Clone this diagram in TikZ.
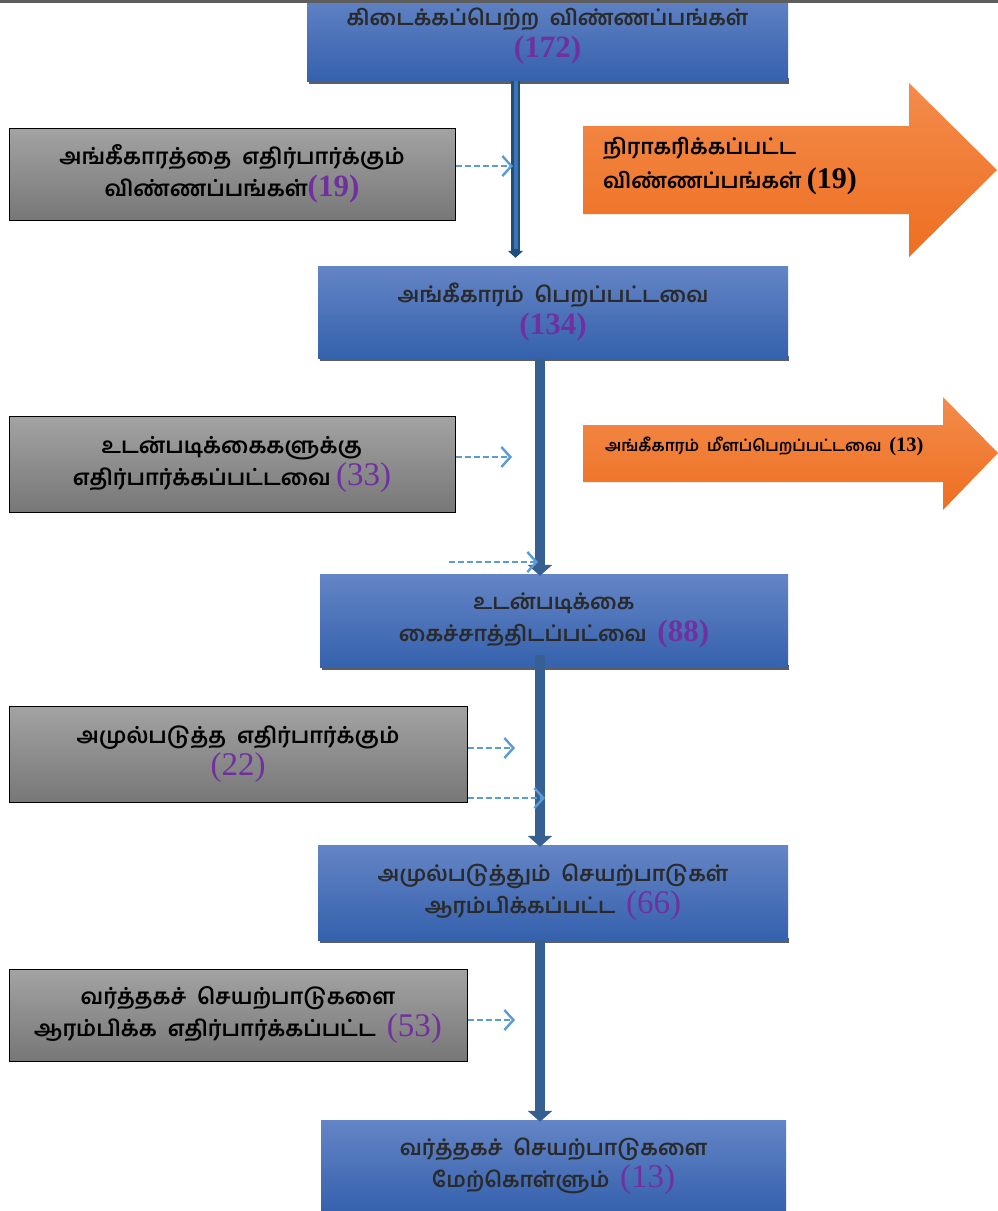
\documentclass[tikz,border=0pt]{standalone}
\usepackage{fontspec}
\newfontfamily\tam[Script=Tamil]{Hind Madurai}
\newfontfamily\numf{Liberation Serif}
\usetikzlibrary{arrows.meta,shadings}
\definecolor{blueT}{HTML}{6485C6}
\definecolor{blueB}{HTML}{3561AD}
\definecolor{grayT}{HTML}{A3A3A3}
\definecolor{grayB}{HTML}{777777}
\definecolor{oraT}{HTML}{F38B4B}
\definecolor{oraB}{HTML}{EE6F21}
\definecolor{flowblue}{HTML}{376092}
\definecolor{dashblue}{HTML}{5B9BD5}
\definecolor{purp}{HTML}{7030A0}
\definecolor{txtdark}{HTML}{2A2A2A}
\definecolor{shadowgray}{HTML}{5E5E5E}
\definecolor{dblout}{HTML}{1F4E79}
\definecolor{dblin}{HTML}{3E74B3}
\newcommand{\nb}[1]{{\numf\bfseries\fontsize{31}{32}\selectfont\color{purp}(#1)}}
\newcommand{\nr}[1]{{\numf\mdseries\fontsize{33}{32}\selectfont\color{purp}(#1)}}
\begin{document}
\begin{tikzpicture}[x=1pt,y=-1pt,
  bluebox/.style={draw=none,top color=blueT,bottom color=blueB,text=txtdark,align=center,inner sep=0pt,
    font=\tam\bfseries\fontsize{21.5}{32}\selectfont},
  graybox/.style={draw=black,line width=1pt,top color=grayT,bottom color=grayB,text=black,align=center,inner sep=0pt,
    font=\tam\bfseries\fontsize{22}{32}\selectfont},
  orabox/.style={top color=oraT,bottom color=oraB,draw=none},
  oratext/.style={anchor=west,align=left,inner sep=0pt,text=black},
  flow/.style={draw=flowblue,line width=10pt,-{Triangle[width=24pt,length=11pt]}},
  dblouter/.style={draw=dblout,line width=9pt,-{Triangle[width=15pt,length=7pt]}},
  dblinner/.style={draw=dblin,line width=4pt,shorten >=9pt},
  dsh/.style={draw=dashblue,line width=2.6pt,dash pattern=on 6pt off 3pt,-{Straight Barb[length=9pt,width=20pt,line width=2.4pt]}},
]
\useasboundingbox (0,0) rectangle (998,1211);
\fill[white] (0,0) rectangle (998,1211);

% blue boxes with bottom shadows
\fill[shadowgray] (309,78) rectangle (789,84);
\node[bluebox,minimum width=481pt,minimum height=90pt] (b1) at (547.5,36)
  {கிடைக்கப்பெற்ற\ \ விண்ணப்பங்கள்\\ \nb{172}};
\fill[shadowgray] (320,356) rectangle (789,361);
\node[bluebox,minimum width=470pt,minimum height=92pt] (b2) at (553,312)
  {அங்கீகாரம்\ \ பெறப்பட்டவை\\ \nb{134}};
\fill[shadowgray] (322,665) rectangle (789,670);
\node[bluebox,minimum width=468pt,minimum height=93pt] (b3) at (554,620.5)
  {உடன்படிக்கை\\ கைச்சாத்திடப்பட்வை\ \ \nb{88}};
\fill[shadowgray] (320,938) rectangle (789,943);
\node[bluebox,minimum width=470pt,minimum height=95pt] (b4) at (553,892.5)
  {அமுல்படுத்தும்\ \ செயற்பாடுகள்\\ ஆரம்பிக்கப்பட்ட\ \ \nr{66}};
\node[bluebox,minimum width=465pt,minimum height=92pt] (b5) at (553.5,1166)
  {வர்த்தகச்\ \ செயற்பாடுகளை\\ மேற்கொள்ளும்\ \ \nr{13}};

% top rule
\fill[shadowgray] (0,0) rectangle (998,3);

% gray boxes
\node[graybox,minimum width=446pt,minimum height=92pt] (g1) at (232,174)
  {அங்கீகாரத்தை\ \ எதிர்பார்க்கும்\\ விண்ணப்பங்கள்\nb{19}};
\node[graybox,minimum width=446pt,minimum height=96pt] (g2) at (232,464)
  {உடன்படிக்கைகளுக்கு\\ எதிர்பார்க்கப்பட்டவை \nr{33}};
\node[graybox,minimum width=458pt,minimum height=96pt] (g3) at (238,754)
  {அமுல்படுத்த\ \ எதிர்பார்க்கும்\\ \nr{22}};
\node[graybox,minimum width=458pt,minimum height=92pt] (g4) at (238,1015)
  {வர்த்தகச்\ \ செயற்பாடுகளை\\ ஆரம்பிக்க\ \ எதிர்பார்க்கப்பட்ட\ \ \nr{53}};

% orange arrows
\path[orabox] (583,126) -- (909,126) -- (909,83) -- (997,170) -- (909,257) -- (909,214) -- (583,214) -- cycle;
\node[oratext,font=\tam\bfseries\fontsize{21.5}{34}\selectfont] (o1) at (603,166)
  {நிராகரிக்கப்பட்ட\\ விண்ணப்பங்கள் {\numf\bfseries\fontsize{30}{30}\selectfont(19)}};
\path[orabox] (583,425) -- (943,425) -- (943,397) -- (998,453) -- (943,510) -- (943,482) -- (583,482) -- cycle;
\node[oratext,font=\tam\bfseries\fontsize{16}{16}\selectfont] (o2) at (605,446)
  {அங்கீகாரம்\ \ மீளப்பெறப்பட்டவை\ \ {\numf\bfseries\fontsize{20.5}{20}\selectfont(13)}};

% connector points
\coordinate (dx) at (515.5,0);
\coordinate (ax) at (540,0);
\coordinate (d1) at (513,166);
\coordinate (d2) at (512,457);
\coordinate (f1) at (449,562);
\coordinate (f2) at (538,562);
\coordinate (d3) at (515,748);
\coordinate (d4) at (545,798);
\coordinate (d5) at (515,1020);

% main flow
\draw[dblouter] (b1.south -| dx) -- ([yshift=8pt]b2.north -| dx);
\draw[dblinner] (b1.south -| dx) -- ([yshift=8pt]b2.north -| dx);
\draw[flow] (b2.south -| ax) -- ([yshift=-2pt]b3.north -| ax);
\draw[flow] ([yshift=12pt]b3.south -| ax) -- ([yshift=-2pt]b4.north -| ax);
\draw[flow] (b4.south -| ax) -- ([yshift=-2pt]b5.north -| ax);

% dashed side arrows
\draw[dsh] (g1.east |- d1) -- (d1);
\draw[dsh] (g2.east |- d2) -- (d2);
\draw[dsh] (f1) -- (f2);
\draw[dsh] (g3.east |- d3) -- (d3);
\draw[dsh] (g3.east |- d4) -- (d4);
\draw[dsh] (g4.east |- d5) -- (d5);
\end{tikzpicture}
\end{document}
